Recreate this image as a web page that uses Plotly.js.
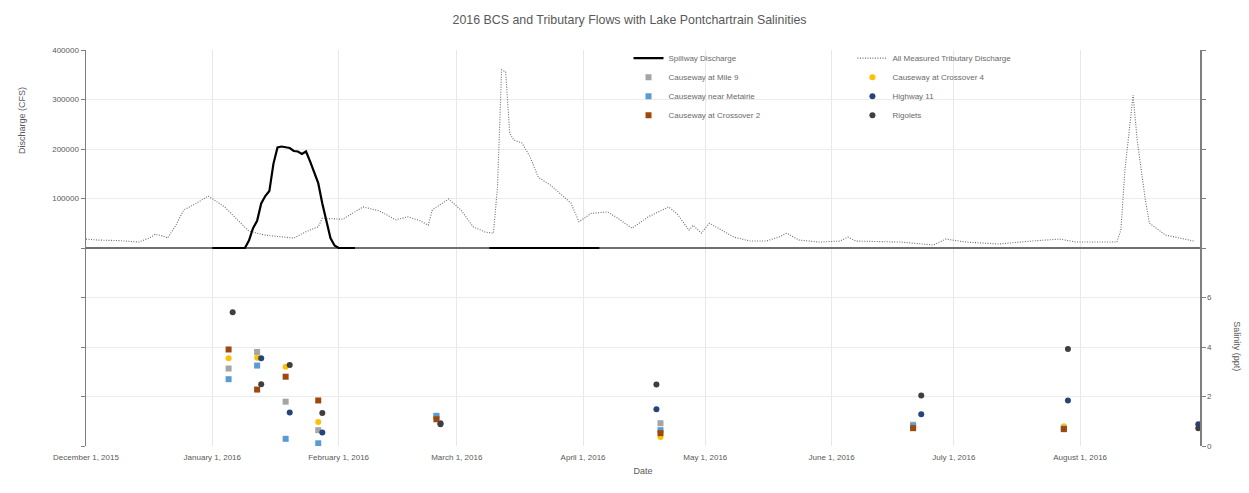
<!DOCTYPE html>
<html>
<head>
<meta charset="utf-8">
<script src="https://cdn.plot.ly/plotly-3.0.1.min.js"></script>
<style>
  html, body { margin: 0; padding: 0; background: #ffffff; }
  #chart { width: 1249px; height: 493px; }
</style>
</head>
<body>
<div id="chart"></div>
<script>
// ---- Discharge (CFS) ----
const tribDates = ['2015-12-01','2015-12-04','2015-12-09','2015-12-14','2015-12-17','2015-12-18','2015-12-20','2015-12-21','2015-12-23','2015-12-25','2015-12-28','2015-12-31',
  '2016-01-04','2016-01-08','2016-01-10','2016-01-14','2016-01-17','2016-01-21','2016-01-24','2016-01-27','2016-01-28',
  '2016-02-02','2016-02-07','2016-02-11','2016-02-15','2016-02-18','2016-02-21','2016-02-23','2016-02-24','2016-02-28',
  '2016-03-02','2016-03-05','2016-03-08','2016-03-10','2016-03-11','2016-03-12','2016-03-13','2016-03-14','2016-03-15','2016-03-17','2016-03-19','2016-03-21','2016-03-24','2016-03-26','2016-03-29','2016-03-31',
  '2016-04-03','2016-04-07','2016-04-09','2016-04-13','2016-04-17','2016-04-22','2016-04-24','2016-04-27','2016-04-28','2016-04-30',
  '2016-05-02','2016-05-05','2016-05-08','2016-05-12','2016-05-16','2016-05-19','2016-05-21','2016-05-24','2016-05-29',
  '2016-06-03','2016-06-05','2016-06-07','2016-06-18','2016-06-26','2016-06-29',
  '2016-07-04','2016-07-12','2016-07-20','2016-07-27','2016-07-31',
  '2016-08-10','2016-08-11','2016-08-12','2016-08-14','2016-08-15','2016-08-17','2016-08-18','2016-08-22','2016-08-26','2016-08-29'];
const tribFlow = [18000,16000,15000,12000,22000,28000,24000,20000,45000,77000,90000,105000,
  83000,50000,34000,26000,24000,20000,33000,43000,60000,
  58000,83000,75000,57000,63000,55000,46000,77000,99000,
  77000,43000,32000,30000,123000,360000,356000,232000,218000,212000,184000,143000,127000,113000,91000,53000,
  70000,73000,63000,40000,63000,83000,70000,36000,46000,30000,
  50000,36000,22000,14000,14000,22000,30000,16000,12000,
  14000,22000,14000,12000,6000,18000,
  12000,8000,14000,18000,12000,
  12000,36000,158000,309000,218000,97000,50000,26000,20000,14000];

const spillDates = ['2016-01-01','2016-01-05','2016-01-09','2016-01-10','2016-01-11','2016-01-12','2016-01-13','2016-01-14','2016-01-15','2016-01-16','2016-01-17','2016-01-18','2016-01-19','2016-01-20','2016-01-21','2016-01-22','2016-01-23','2016-01-24','2016-01-25','2016-01-26','2016-01-27','2016-01-28','2016-01-29','2016-01-30','2016-01-31','2016-02-01','2016-02-05','2016-02-20','2016-03-09','2016-04-05'];
const spillFlow = [0,0,0,15000,40000,55000,90000,105000,115000,170000,203000,205000,204000,202000,196000,195000,190000,195000,175000,155000,131000,90000,55000,20000,5000,0,0,null,0,0];

// ---- Salinity (ppt) ----
const mile9Dates = ['2016-01-05','2016-01-12','2016-01-19','2016-01-27','2016-02-25','2016-04-20','2016-06-21','2016-07-28'];
const mile9Sal   = [3.13,3.8,1.79,0.64,1.18,0.92,0.86,0.72];
const cross4Dates = ['2016-01-05','2016-01-12','2016-01-19','2016-01-27','2016-02-25','2016-04-20','2016-06-21','2016-07-28'];
const cross4Sal   = [3.55,3.57,3.2,0.97,1.15,0.36,0.78,0.8];
const metairieDates = ['2016-01-05','2016-01-12','2016-01-19','2016-01-27','2016-02-25','2016-04-20','2016-06-21','2016-07-28'];
const metairieSal   = [2.7,3.25,0.29,0.11,1.22,0.64,0.8,0.7];
const hwy11Dates = ['2016-01-13','2016-01-20','2016-01-28','2016-02-26','2016-04-19','2016-06-23','2016-07-29','2016-08-30'];
const hwy11Sal   = [3.55,1.35,0.55,0.92,1.48,1.28,1.84,0.88];
const cross2Dates = ['2016-01-05','2016-01-12','2016-01-19','2016-01-27','2016-02-25','2016-04-20','2016-06-21','2016-07-28'];
const cross2Sal   = [3.9,2.28,2.8,1.84,1.08,0.52,0.72,0.68];
const rigoletsDates = ['2016-01-06','2016-01-13','2016-01-20','2016-01-28','2016-02-26','2016-04-19','2016-06-23','2016-07-29','2016-08-30'];
const rigoletsSal   = [5.4,2.5,3.27,1.33,0.88,2.48,2.04,3.92,0.72];

// ---- Axis ticks ----
const monthTicks = ['2015-12-01','2016-01-01','2016-02-01','2016-03-01','2016-04-01','2016-05-01','2016-06-01','2016-07-01','2016-08-01'];
const monthLabels = ['December 1, 2015','January 1, 2016','February 1, 2016','March 1, 2016','April 1, 2016','May 1, 2016','June 1, 2016','July 1, 2016','August 1, 2016'];
const flowTicks = [-400000,-300000,-200000,-100000,0,100000,200000,300000,400000];
const flowLabels = ['','','','','','100000','200000','300000','400000'];
const salTicks = [0,2,4,6,8,10,12,14,16];
const salLabels = ['0','2','4','6','','','','',''];

const FONT = 'Liberation Sans, Arial, sans-serif';
const GREY = '#595959';

function sal(name, x, y, color, symbol, legend) {
  return {type:'scatter', mode:'markers', name:name, x:x, y:y, yaxis:'y2', legend:legend,
    marker:{color:color, size:6, symbol:symbol}};
}

const traces = [
  {type:'scatter', mode:'lines', name:'Spillway Discharge', x:spillDates, y:spillFlow,
    line:{color:'#000000', width:2.2}, connectgaps:false, legend:'legend'},
  {type:'scatter', mode:'lines', name:'All Measured Tributary Discharge', x:tribDates, y:tribFlow,
    line:{color:'#6a6a6a', width:1.1, dash:'1px,1.5px'}, legend:'legend2'},
  sal('Causeway at Mile 9', mile9Dates, mile9Sal, '#A5A5A5', 'square', 'legend'),
  sal('Causeway at Crossover 4', cross4Dates, cross4Sal, '#FFC000', 'circle', 'legend2'),
  sal('Causeway near Metairie', metairieDates, metairieSal, '#5B9BD5', 'square', 'legend'),
  sal('Highway 11', hwy11Dates, hwy11Sal, '#264478', 'circle', 'legend2'),
  sal('Causeway at Crossover 2', cross2Dates, cross2Sal, '#9E480E', 'square', 'legend'),
  sal('Rigolets', rigoletsDates, rigoletsSal, '#3f3f3f', 'circle', 'legend2')
];

const legendCommon = {bgcolor:'rgba(255,255,255,0)', borderwidth:0, font:{family:FONT, size:8, color:'#6a6a6a'},
  yanchor:'top', xanchor:'left', y:1.016, tracegroupgap:0, itemwidth:30};

const layout = {
  width:1249, height:493,
  paper_bgcolor:'#ffffff', plot_bgcolor:'#ffffff',
  margin:{l:86, r:49, t:50, b:47},
  font:{family:FONT, color:GREY},
  title:{text:'2016 BCS and Tributary Flows with Lake Pontchartrain Salinities',
    font:{family:FONT, size:12.4, color:GREY}, x:0.504, xref:'container', y:0.96, yanchor:'middle'},
  xaxis:{type:'date', range:['2015-12-01','2016-08-30 10:00'], tickvals:monthTicks, ticktext:monthLabels,
    tickfont:{family:FONT, size:8, color:GREY}, ticks:'', ticklabelstandoff:5, showgrid:true, gridcolor:'#e8e8e8', gridwidth:1,
    showline:false, zeroline:false, tickangle:0,
    title:{text:'Date', font:{family:FONT, size:9, color:GREY}, standoff:6}},
  yaxis:{range:[-400000,400000], tickvals:flowTicks, ticktext:flowLabels, tickfont:{family:FONT, size:8, color:GREY},
    ticks:'outside', ticklen:4, tickcolor:'#7f7f7f', showline:true, linecolor:'#7f7f7f', linewidth:1.5,
    showgrid:true, gridcolor:'#ececec', zeroline:true, zerolinecolor:'#6f6f6f', zerolinewidth:2.2},
  yaxis2:{range:[0,16], overlaying:'y', side:'right', tickvals:salTicks, ticktext:salLabels,
    tickfont:{family:FONT, size:8, color:GREY}, ticks:'outside', ticklen:4, tickcolor:'#7f7f7f',
    showline:true, linecolor:'#7f7f7f', linewidth:1.5, showgrid:false, zeroline:false},
  legend:Object.assign({}, legendCommon, {x:0.487}),
  legend2:Object.assign({}, legendCommon, {x:0.688}),
  showlegend:true,
  annotations:[
    {text:'Discharge (CFS)', xref:'paper', yref:'paper', x:-0.0575, y:0.823, textangle:-90,
      showarrow:false, font:{family:FONT, size:9, color:GREY}, xanchor:'center', yanchor:'middle'},
    {text:'Salinity (ppt)', xref:'paper', yref:'paper', x:1.033, y:0.2525, textangle:90,
      showarrow:false, font:{family:FONT, size:9, color:GREY}, xanchor:'center', yanchor:'middle'}
  ]
};

Plotly.newPlot('chart', traces, layout, {displayModeBar:false, staticPlot:true});
</script>
</body>
</html>
